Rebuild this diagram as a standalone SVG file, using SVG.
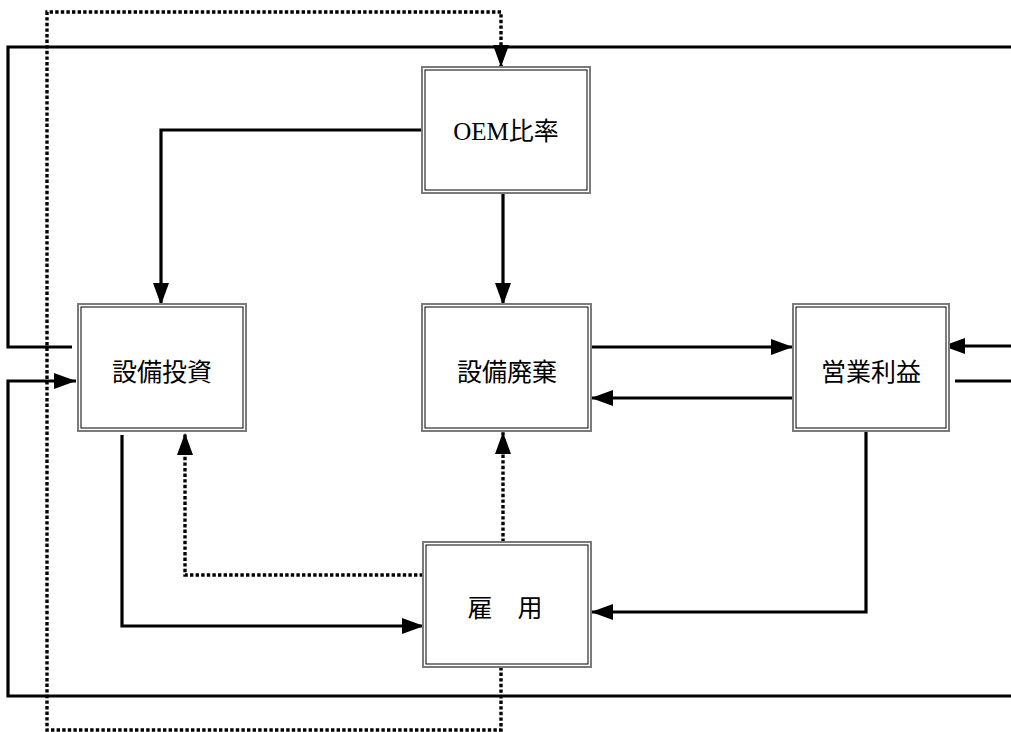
<svg xmlns="http://www.w3.org/2000/svg" width="1011" height="732" viewBox="0 0 1011 732">
  <style>
    .outer { fill: #fff; stroke: #7a7a7a; stroke-width: 2; }
    .inner { fill: none; stroke: #000; stroke-width: 1; }
    .lbl { font-family: "Liberation Serif", "Noto Sans CJK JP", serif; font-size: 25px; fill: #000; text-anchor: middle; }
    .solid { fill: none; stroke: #000; stroke-width: 3.2; }
    .dot { fill: none; stroke: #000; stroke-width: 3.4; stroke-dasharray: 3.4 2.2; }
  </style>
  <defs>
    <marker id="ah" markerUnits="userSpaceOnUse" markerWidth="22" markerHeight="22" viewBox="0 0 22 22" refX="22" refY="11" orient="auto">
      <path d="M0,3 L22,11 L0,19 Z" fill="#000"/>
    </marker>
  </defs>
  <rect width="1011" height="732" fill="#fff"/>

  <g id="connectors">
    <path class="solid" d="M1011,47 H8 V347 H72"/>
    <path class="solid" d="M1011,696 H8 V381 H76" marker-end="url(#ah)"/>
    <path class="solid" d="M422,130 H161 V305" marker-end="url(#ah)"/>
    <path class="solid" d="M503,193 V305" marker-end="url(#ah)"/>
    <path class="solid" d="M591,347 H793" marker-end="url(#ah)"/>
    <path class="solid" d="M793,398 H591" marker-end="url(#ah)"/>
    <path class="solid" d="M1011,346 H943" marker-end="url(#ah)"/>
    <path class="solid" d="M955,381 H1011"/>
    <path class="solid" d="M866,432 V612 H591" marker-end="url(#ah)"/>
    <path class="solid" d="M122,435 V626 H424" marker-end="url(#ah)"/>
    <path class="dot" d="M423,575 H185 V433" marker-end="url(#ah)"/>
    <path class="dot" d="M503,542 V432" marker-end="url(#ah)"/>
    <path class="dot" d="M501,667 V730 H47 V12 H501 V67" marker-end="url(#ah)"/>
  </g>

  <g id="node-oem">
    <rect class="outer" x="422" y="67" width="168" height="126"/>
    <rect class="inner" x="425" y="70" width="162" height="120"/>
    <text class="lbl" x="506" y="140">OEM比率</text>
  </g>
  <g id="node-setsubi-toushi">
    <rect class="outer" x="78" y="304" width="168" height="127"/>
    <rect class="inner" x="81" y="307" width="162" height="121"/>
    <text class="lbl" x="162" y="381">設備投資</text>
  </g>
  <g id="node-setsubi-haiki">
    <rect class="outer" x="422" y="304" width="169" height="127"/>
    <rect class="inner" x="425" y="307" width="163" height="121"/>
    <text class="lbl" x="507" y="381">設備廃棄</text>
  </g>
  <g id="node-eigyo-rieki">
    <rect class="outer" x="793" y="304" width="156" height="127"/>
    <rect class="inner" x="796" y="307" width="150" height="121"/>
    <text class="lbl" x="871" y="381">営業利益</text>
  </g>
  <g id="node-koyo">
    <rect class="outer" x="423" y="542" width="168" height="125"/>
    <rect class="inner" x="426" y="545" width="162" height="119"/>
    <text class="lbl" x="505" y="617">雇　用</text>
  </g>
</svg>
